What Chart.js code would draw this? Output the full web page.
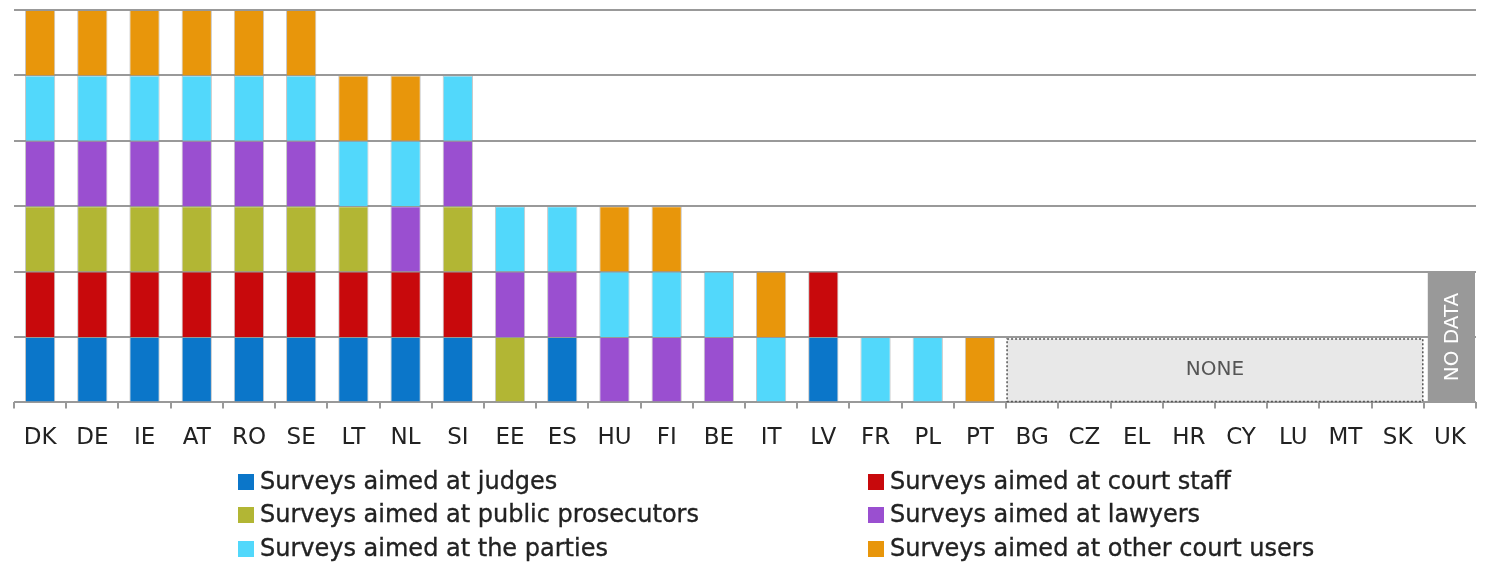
<!DOCTYPE html>
<html>
<head>
<meta charset="utf-8">
<script src="https://cdn.jsdelivr.net/npm/chart.js@4.4.1/dist/chart.umd.min.js"></script>
<style>
  html, body { margin: 0; padding: 0; background: #fff; }
  #wrap { position: relative; width: 1487px; height: 566px; }
  #legend { position: absolute; left: 0; top: 0; width: 1487px; height: 566px; pointer-events: none;
            font-family: "DejaVu Sans", sans-serif; font-size: 24px; color: #222; -webkit-text-stroke: 0.35px #222; }
  .item { position: absolute; white-space: nowrap; line-height: 28px; }
  .item i { display: inline-block; width: 16px; height: 16px; margin-right: 6px; vertical-align: -1px; }
</style>
</head>
<body>
<div id="wrap">
  <canvas id="chart" width="1487" height="566"></canvas>
  <div id="legend"></div>
</div>
<script>
const countries = ['DK','DE','IE','AT','RO','SE','LT','NL','SI','EE','ES','HU','FI','BE','IT','LV','FR','PL','PT','BG','CZ','EL','HR','CY','LU','MT','SK','UK'];

// 1 = the country runs that kind of survey (stacked from the bottom in this order)
const judges      = [1,1,1,1,1,1,1,1,1,0,1,0,0,0,0,1,0,0,0,0,0,0,0,0,0,0,0,0];
const courtStaff  = [1,1,1,1,1,1,1,1,1,0,0,0,0,0,0,1,0,0,0,0,0,0,0,0,0,0,0,0];
const prosecutors = [1,1,1,1,1,1,1,0,1,1,0,0,0,0,0,0,0,0,0,0,0,0,0,0,0,0,0,0];
const lawyers     = [1,1,1,1,1,1,0,1,1,1,1,1,1,1,0,0,0,0,0,0,0,0,0,0,0,0,0,0];
const parties     = [1,1,1,1,1,1,1,1,1,1,1,1,1,1,1,0,1,1,0,0,0,0,0,0,0,0,0,0];
const otherUsers  = [1,1,1,1,1,1,1,1,0,0,0,1,1,0,1,0,0,0,1,0,0,0,0,0,0,0,0,0];

const noneCountries = ['BG','CZ','EL','HR','CY','LU','MT','SK'];
const noneLabel = 'NONE';
const noneHeight = 1;
const noDataCountries = ['UK'];
const noDataLabel = 'NO DATA';
const noDataHeight = 2;

const yTicks = [0,1,2,3,4,5,6];

const series = [
  { label: 'Surveys aimed at judges', data: judges, color: '#0b76c9' },
  { label: 'Surveys aimed at court staff', data: courtStaff, color: '#c8090c' },
  { label: 'Surveys aimed at public prosecutors', data: prosecutors, color: '#b2b634' },
  { label: 'Surveys aimed at lawyers', data: lawyers, color: '#9a4fd0' },
  { label: 'Surveys aimed at the parties', data: parties, color: '#52d8fb' },
  { label: 'Surveys aimed at other court users', data: otherUsers, color: '#e8960b' }
];

const FONT = '"DejaVu Sans", sans-serif';

const boxesPlugin = {
  id: 'boxes',
  afterDraw(chart) {
    const ctx = chart.ctx;
    const x = chart.scales.x, y = chart.scales.y;
    const step = x.getPixelForValue(1) - x.getPixelForValue(0);

    // NONE box
    const i0 = countries.indexOf(noneCountries[0]);
    const i1 = countries.indexOf(noneCountries[noneCountries.length - 1]);
    const left = x.getPixelForValue(i0) - step / 2 + 1;
    const right = x.getPixelForValue(i1) + step / 2 - 1;
    const top = y.getPixelForValue(noneHeight) + 2;
    const bottom = y.getPixelForValue(0) - 1;
    ctx.save();
    ctx.fillStyle = '#e8e8e8';
    ctx.fillRect(left, top, right - left, bottom - top);
    ctx.setLineDash([2, 2]);
    ctx.strokeStyle = '#555';
    ctx.lineWidth = 1.5;
    ctx.strokeRect(left, top, right - left, bottom - top);
    ctx.setLineDash([]);
    ctx.fillStyle = '#555';
    ctx.font = '20px ' + FONT;
    ctx.textAlign = 'center';
    ctx.textBaseline = 'middle';
    ctx.fillText(noneLabel, (left + right) / 2, (top + bottom) / 2);

    // NO DATA box
    noDataCountries.forEach(c => {
      const cx = x.getPixelForValue(countries.indexOf(c));
      const l = cx - step / 2 + 4, r = cx + step / 2 - 1;
      const t = y.getPixelForValue(noDataHeight);
      const b = y.getPixelForValue(0);
      ctx.fillStyle = '#999';
      ctx.fillRect(l, t, r - l, b - t);
      ctx.save();
      ctx.translate((l + r) / 2, (t + b) / 2);
      ctx.rotate(-Math.PI / 2);
      ctx.fillStyle = '#fff';
      ctx.font = '20px ' + FONT;
      ctx.textAlign = 'center';
      ctx.textBaseline = 'middle';
      ctx.fillText(noDataLabel, 0, 1);
      ctx.restore();
    });
    ctx.restore();
  }
};

new Chart(document.getElementById('chart'), {
  type: 'bar',
  data: {
    labels: countries,
    datasets: series.map(s => ({
      label: s.label,
      data: s.data.map(v => v || null),
      backgroundColor: s.color,
      borderColor: 'rgba(150,150,150,0.55)',
      borderWidth: 1,
      categoryPercentage: 1,
      barPercentage: 0.58
    }))
  },
  options: {
    responsive: false,
    animation: false,
    layout: { padding: { left: 14, right: 11, top: 10, bottom: 98 } },
    plugins: { legend: { display: false }, tooltip: { enabled: false } },
    scales: {
      x: {
        stacked: true,
        border: { display: false },
        grid: { drawOnChartArea: false, drawTicks: true, tickLength: 6, color: '#999', lineWidth: 2 },
        ticks: { color: '#222', font: { family: FONT, size: 23 }, padding: 16, maxRotation: 0, autoSkip: false }
      },
      y: {
        stacked: true,
        min: yTicks[0],
        max: yTicks[yTicks.length - 1],
        afterBuildTicks: axis => { axis.ticks = yTicks.map(v => ({ value: v })); },
        border: { display: false },
        grid: { color: '#999', lineWidth: 2, drawTicks: false },
        ticks: { display: false }
      }
    }
  },
  plugins: [boxesPlugin]
});

// legend in two columns
const legend = document.getElementById('legend');
const cols = [238, 868];
const rows = [481, 514, 548];
series.forEach((s, i) => {
  const d = document.createElement('div');
  d.className = 'item';
  d.style.left = cols[i % 2] + 'px';
  d.style.top = (rows[Math.floor(i / 2)] - 14) + 'px';
  d.innerHTML = '<i style="background:' + s.color + '"></i>' + s.label;
  legend.appendChild(d);
});
</script>
</body>
</html>
